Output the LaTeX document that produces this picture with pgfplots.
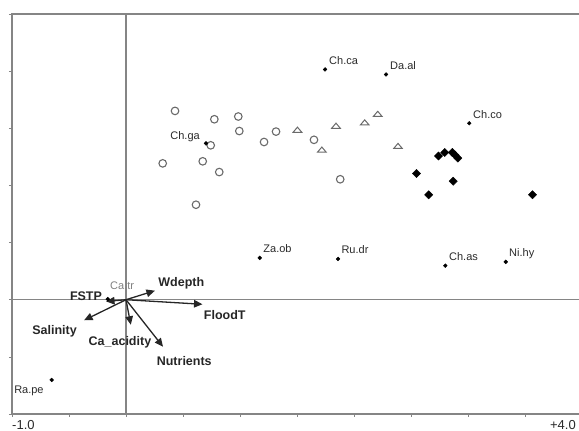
\documentclass[border=0pt]{standalone}
\usepackage{fontspec}
\setmainfont{Liberation Sans}
\usepackage{pgfplots}
\pgfplotsset{compat=1.18}
\usetikzlibrary{arrows.meta}
\definecolor{framegray}{HTML}{858585}
\definecolor{mkgray}{HTML}{6A6A6A}
\definecolor{txt}{HTML}{2A2A2A}
\definecolor{arr}{HTML}{262626}
\begin{document}
\begin{tikzpicture}
\begin{axis}[
  scale only axis, width=570pt, height=400pt,
  xmin=-1, xmax=4, ymin=-1, ymax=2.5,
  axis line style={framegray, line width=1.3pt},
  xtick={-1,-0.5,0,0.5,1,1.5,2,2.5,3,3.5,4},
  ytick={-1,-0.5,0,0.5,1,1.5,2,2.5},
  xticklabels={}, yticklabels={},
  xtick pos=bottom, ytick pos=left,
  tick align=outside, major tick length=3pt,
  tick style={framegray, line width=0.6pt},
  clip=false,
]
\coordinate (ll) at (rel axis cs:0,0);
% zero lines
\draw[framegray, line width=1.2pt] (axis cs:-1,0) -- (axis cs:4,0);
\draw[framegray, line width=1.2pt] (axis cs:0,-1) -- (axis cs:0,2.5);

% open circles
\addplot[only marks, mark=o, mark size=3.8pt, mark options={draw=mkgray, line width=1.1pt}] coordinates {
(0.430,1.652) (0.775,1.579) (0.985,1.603) (0.994,1.476) (1.316,1.471)
(1.211,1.380) (0.743,1.351) (0.322,1.193) (0.673,1.211) (0.818,1.117)
(0.614,0.831) (1.649,1.399) (1.879,1.054)
};
% open triangles
\addplot[only marks, mark=triangle, mark size=5pt, mark options={draw=mkgray, line width=1.0pt, yscale=0.68}] coordinates {
(1.504,1.480) (1.842,1.515) (2.094,1.544) (2.208,1.619) (1.718,1.306) (2.386,1.338)
};
% filled diamonds
\addplot[only marks, mark=square*, mark size=2.9pt, mark options={fill=black, draw=black, rotate=45}] coordinates {
(2.741,1.257) (2.796,1.289) (2.862,1.289) (2.886,1.266) (2.911,1.239)
(2.548,1.105) (2.870,1.037) (2.655,0.918) (3.566,0.918)
};
% species
\addplot[only marks, mark=*, mark size=1.9pt, mark options={fill=black, draw=black}] coordinates {
(1.746,2.015) (2.281,1.971) (3.011,1.544) (0.702,1.368)
(1.173,0.366) (1.860,0.357) (2.801,0.298) (3.331,0.331)
(-0.652,-0.702) (-0.160,0.005)
};
\begin{scope}[every node/.style={font=\fontsize{11}{13}\selectfont, text=txt, inner sep=0pt}]
\node[anchor=west] at (axis cs:1.781,2.096) {Ch.ca};
\node[anchor=west] at (axis cs:2.316,2.053) {Da.al};
\node[anchor=west] at (axis cs:3.044,1.620) {Ch.co};
\node[anchor=east] at (axis cs:0.649,1.424) {Ch.ga};
\node[anchor=west] at (axis cs:1.204,0.445) {Za.ob};
\node[anchor=west] at (axis cs:1.889,0.439) {Ru.dr};
\node[anchor=west] at (axis cs:2.833,0.380) {Ch.as};
\node[anchor=west] at (axis cs:3.360,0.406) {Ni.hy};
\node[anchor=west] at (axis cs:-0.982,-0.796) {Ra.pe};
\node[anchor=west, text=gray] at (axis cs:-0.14,0.123) {Ca.tr};
\end{scope}

% environmental arrows
\pgfplotsset{envarrow/.style={arr, line width=1.3pt, -{Triangle[length=8.5pt,width=7.5pt]}, no markers}}
\addplot[envarrow] coordinates {(0,0) (0.254,0.079)};
\addplot[envarrow] coordinates {(0,0) (0.671,-0.040)};
\addplot[envarrow] coordinates {(0,0) (-0.175,-0.015)};
\addplot[envarrow] coordinates {(0,0) (-0.368,-0.180)};
\addplot[envarrow] coordinates {(0,0) (0.042,-0.219)};
\addplot[envarrow] coordinates {(0,0) (0.325,-0.412)};
\begin{scope}[every node/.style={font=\fontsize{12.5}{14}\bfseries, text=arr, inner sep=0pt}]
\node at (axis cs:0.485,0.145) {Wdepth};
\node at (axis cs:0.866,-0.132) {FloodT};
\node at (axis cs:-0.351,0.035) {FSTP};
\node at (axis cs:-0.627,-0.272) {Salinity};
\node at (axis cs:-0.053,-0.375) {Ca\_acidity};
\node at (axis cs:0.511,-0.535) {Nutrients};
\end{scope}
\end{axis}
\node[anchor=west, inner sep=0pt, font=\fontsize{13}{15}\selectfont, text=txt] at ([yshift=-11pt]ll) {-1.0};
\node[anchor=east, inner sep=0pt, font=\fontsize{13}{15}\selectfont, text=txt] at ([xshift=564pt,yshift=-11pt]ll) {+4.0};
\pgfresetboundingbox
\path[use as bounding box] (ll) ++(-12pt,-17pt) rectangle ++(579pt,431pt);
\end{tikzpicture}
\end{document}
